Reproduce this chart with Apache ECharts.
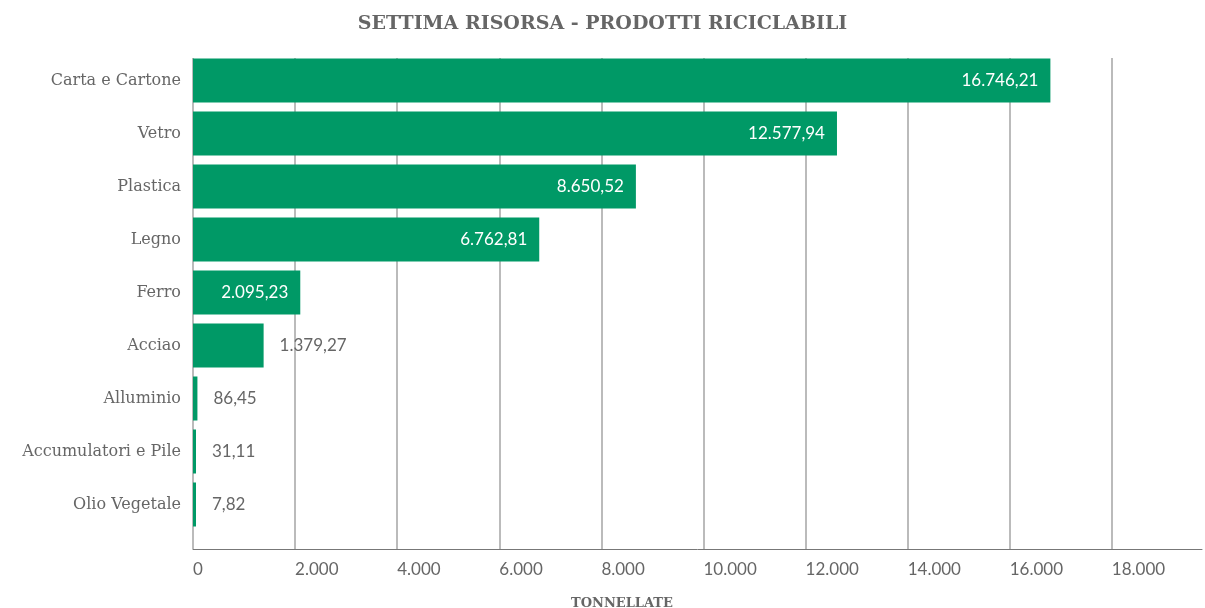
<!DOCTYPE html>
<html>
<head>
<meta charset="utf-8">
<script src="https://cdn.jsdelivr.net/npm/echarts@6/dist/echarts.min.js"></script>
<style>
  html, body { margin: 0; padding: 0; background: #fff; }
</style>
</head>
<body>
<div id="main" style="width: 1205px; height: 608px;"></div>
<script>
var categories = ['Carta e Cartone', 'Vetro', 'Plastica', 'Legno', 'Ferro', 'Acciao', 'Alluminio', 'Accumulatori e Pile', 'Olio Vegetale']
var values = [16746.21, 12577.94, 8650.52, 6762.81, 2095.23, 1379.27, 86.45, 31.11, 7.82]
var axisMax = 19766
var tickStep = 2000

// formato italiano: punto per le migliaia, virgola per i decimali
function fmt(v, dec) {
  var s = v.toFixed(dec)
  var parts = s.split('.')
  var intPart = parts[0].replace(/\B(?=(\d{3})+(?!\d))/g, '.')
  return parts.length > 1 ? intPart + ',' + parts[1] : intPart
}

var gray = '#666'
var green = '#009966'
var slab = '"DejaVu Serif"'

var barData = []
for (var i = 0; i < values.length; i++) {
  var inside = values[i] >= 2000
  barData.push({
    value: values[i],
    label: inside
      ? { position: 'insideRight', distance: 12, color: '#fff' }
      : { position: 'right', distance: 16, color: gray }
  })
}

var chartDom = document.getElementById('main');
var myChart = echarts.init(chartDom);
var option = {
  animation: false,
  title: [
    {
      text: 'SETTIMA RISORSA - PRODOTTI RICICLABILI',
      left: 'center',
      top: 10,
      textStyle: { fontFamily: slab, fontWeight: 'bold', fontSize: 19, color: gray }
    },
    {
      text: 'TONNELLATE',
      left: 566,
      top: 592,
      textStyle: { fontFamily: slab, fontWeight: 'bold', fontSize: 13, color: gray }
    }
  ],
  grid: [
    { left: 193, right: 0, top: 54, height: 477 },
    { left: 193, right: 0, top: 58, bottom: 59 }
  ],
  xAxis: [
    { gridIndex: 0, type: 'value', min: 0, max: axisMax, show: false },
    {
      gridIndex: 1,
      type: 'value',
      min: 0,
      max: axisMax,
      interval: tickStep,
      axisLine: { show: true, lineStyle: { color: '#777', width: 1 } },
      axisTick: { show: false },
      axisLabel: {
        align: 'left',
        margin: 12,
        fontFamily: 'Lato',
        fontSize: 17,
        color: gray,
        formatter: function (v) { return v % tickStep === 0 ? fmt(v, 0) : '' }
      },
      splitLine: { show: true, showMaxLine: false, lineStyle: { color: '#bbb', width: 2 } }
    }
  ],
  yAxis: [
    {
      gridIndex: 0,
      type: 'category',
      inverse: true,
      data: categories,
      axisLine: { show: false },
      axisTick: { show: false },
      axisLabel: { margin: 12, fontFamily: slab, fontSize: 16, color: gray }
    },
    { gridIndex: 1, type: 'value', show: false }
  ],
  series: [
    {
      type: 'bar',
      xAxisIndex: 0,
      yAxisIndex: 0,
      barWidth: 44,
      barMinHeight: 3,
      itemStyle: { color: green },
      label: {
        show: true,
        fontFamily: 'Lato',
        fontSize: 17,
        formatter: function (p) { return fmt(p.value, 2) }
      },
      data: barData
    }
  ]
};

option && myChart.setOption(option);
</script>
</body>
</html>
